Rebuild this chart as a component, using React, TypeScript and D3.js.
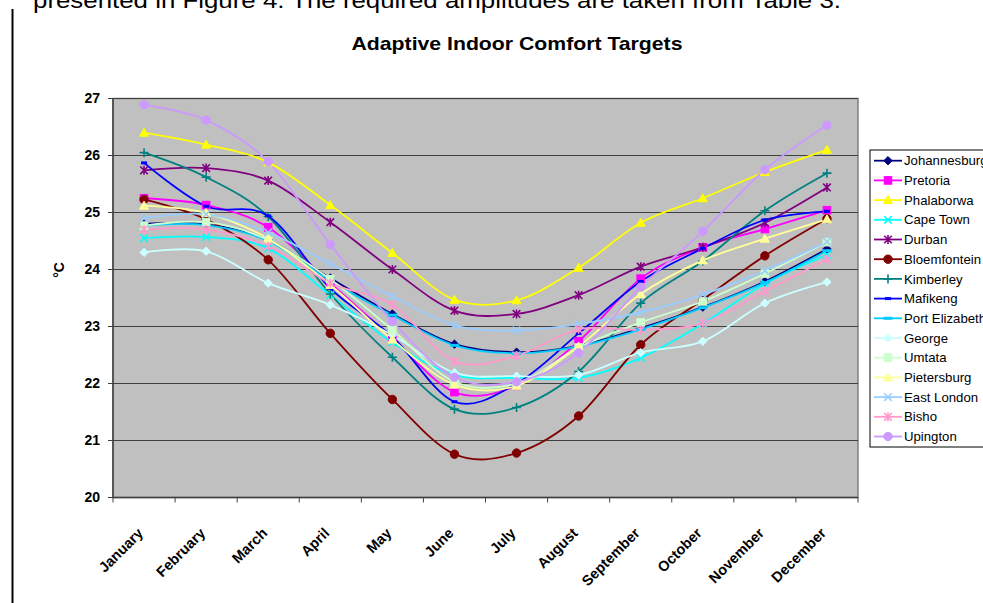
import React from "react";
import * as d3 from "d3";

const months = ["January","February","March","April","May","June","July","August","September","October","November","December"];
const yTicks = [20,21,22,23,24,25,26,27];

const johannesburg = [24.80, 24.79, 24.52, 23.85, 23.22, 22.69, 22.55, 22.66, 22.97, 23.34, 23.79, 24.36];
const pretoria = [25.25, 25.13, 24.74, 23.76, 22.80, 21.85, 21.96, 22.74, 23.84, 24.39, 24.71, 25.04];
const phalaborwa = [26.40, 26.19, 25.88, 25.13, 24.29, 23.47, 23.46, 24.03, 24.82, 25.25, 25.71, 26.10];
const capeTown = [24.55, 24.57, 24.37, 23.55, 22.72, 22.15, 22.10, 22.10, 22.45, 23.05, 23.75, 24.26];
const durban = [25.74, 25.78, 25.56, 24.83, 24.00, 23.28, 23.22, 23.55, 24.05, 24.39, 24.82, 25.44];
const bloemfontein = [25.23, 24.88, 24.17, 22.88, 21.72, 20.76, 20.78, 21.43, 22.68, 23.47, 24.24, 24.89];
const kimberley = [26.05, 25.62, 24.93, 23.57, 22.46, 21.55, 21.58, 22.21, 23.41, 24.15, 25.03, 25.69];
const mafikeng = [25.87, 25.11, 24.94, 23.67, 22.82, 21.68, 22.00, 22.88, 23.79, 24.37, 24.87, 25.02];
const portElizabeth = [24.77, 24.78, 24.50, 23.80, 23.20, 22.67, 22.53, 22.65, 22.95, 23.33, 23.77, 24.33];
const george = [24.30, 24.32, 23.76, 23.38, 22.85, 22.19, 22.13, 22.15, 22.54, 22.74, 23.41, 23.78];
const umtata = [24.77, 24.83, 24.52, 23.83, 22.94, 22.03, 22.00, 22.63, 23.07, 23.44, 23.93, 24.48];
const pietersburg = [25.12, 24.99, 24.54, 23.73, 22.77, 21.98, 21.96, 22.65, 23.57, 24.16, 24.54, 24.88];
const eastLondon = [24.90, 24.97, 24.65, 24.10, 23.53, 23.02, 22.93, 23.04, 23.25, 23.56, 23.98, 24.49];
const bisho = [24.70, 24.70, 24.41, 23.76, 23.38, 22.39, 22.49, 22.95, 22.94, 23.06, 23.62, 24.18];
const upington = [26.89, 26.62, 25.89, 24.44, 23.09, 22.11, 22.03, 22.54, 23.69, 24.67, 25.75, 26.53];

const seriesNames = ["Johannesburg","Pretoria","Phalaborwa","Cape Town","Durban","Bloemfontein","Kimberley","Mafikeng","Port Elizabeth","George","Umtata","Pietersburg","East London","Bisho","Upington"];
const seriesValues = [johannesburg, pretoria, phalaborwa, capeTown, durban, bloemfontein, kimberley, mafikeng, portElizabeth, george, umtata, pietersburg, eastLondon, bisho, upington];
const seriesColors = ["#000080","#FF00FF","#FFFF00","#00FFFF","#800080","#800000","#008080","#0000FF","#00CCFF","#CCFFFF","#CCFFCC","#FFFF99","#99CCFF","#FF99CC","#CC99FF"];
const seriesMarkers = ["diamond","square","triangle","x","star","circle","plus","shortdash","dash","diamond","square","triangle","x","star","circle"];

const FONT = "Arial, 'Liberation Sans', sans-serif";

function Marker({ type, x, y, color }: { type: string; x: number; y: number; color: string }) {
  const s = 4.2;
  switch (type) {
    case "diamond":
      return <path d={`M${x},${y - s}L${x + s},${y}L${x},${y + s}L${x - s},${y}Z`} fill={color} stroke={color} strokeWidth={1} />;
    case "square":
      return <rect x={x - 3.8} y={y - 3.8} width={7.6} height={7.6} fill={color} stroke={color} strokeWidth={1} />;
    case "triangle":
      return <path d={`M${x},${y - 4.5}L${x + 4.5},${y + 3.5}L${x - 4.5},${y + 3.5}Z`} fill={color} stroke={color} strokeWidth={1} />;
    case "x":
      return <path d={`M${x - 3.8},${y - 3.8}L${x + 3.8},${y + 3.8}M${x - 3.8},${y + 3.8}L${x + 3.8},${y - 3.8}`} stroke={color} strokeWidth={1.6} fill="none" />;
    case "star":
      return <path d={`M${x - 3.8},${y - 3.8}L${x + 3.8},${y + 3.8}M${x - 3.8},${y + 3.8}L${x + 3.8},${y - 3.8}M${x},${y - 4.5}L${x},${y + 4.5}`} stroke={color} strokeWidth={1.6} fill="none" />;
    case "circle":
      return <circle cx={x} cy={y} r={4.2} fill={color} stroke={color} strokeWidth={1} />;
    case "plus":
      return <path d={`M${x - 4.5},${y}L${x + 4.5},${y}M${x},${y - 4.5}L${x},${y + 4.5}`} stroke={color} strokeWidth={1.6} fill="none" />;
    case "shortdash":
      return <rect x={x - 3} y={y - 1.5} width={6} height={3} fill={color} />;
    case "dash":
      return <rect x={x - 4.5} y={y - 1.5} width={9} height={3} fill={color} />;
    default:
      return null;
  }
}

export default function App() {
  const W = 983, H = 603;
  const plotLeft = 113, plotRight = 858, plotTop = 98.5, plotBottom = 497.5;

  const x = d3.scaleBand<string>().domain(months).range([plotLeft, plotRight]);
  const bw = x.bandwidth();
  const cx = (m: string) => (x(m) as number) + bw / 2;
  const y = d3.scaleLinear().domain([20, 27]).range([plotBottom, plotTop]);

  const line = d3
    .line<number>()
    .x((_, i) => cx(months[i]))
    .y((d) => y(d))
    .curve(d3.curveCardinal.tension(0));

  const boundaries = months.map((m) => x(m) as number).concat([plotRight]);

  const legendX = 870, legendY = 150, legendRowH = 19.7, legendFirst = 160.7;

  return (
    <svg width={W} height={H} style={{ position: "absolute", left: 0, top: 0, background: "#fff" }} fontFamily={FONT}>
      <rect x={0} y={0} width={W} height={H} fill="#fff" />
      {/* page text fragment */}
      <text x={33} y={8} fontSize={22} fill="#000" textLength={808} lengthAdjust="spacingAndGlyphs">
        presented in Figure 4. The required amplitudes are taken from Table 3.
      </text>
      <line x1={12.5} y1={9} x2={12.5} y2={H} stroke="#000" strokeWidth={2} />

      {/* title */}
      <text x={517} y={50} textAnchor="middle" fontSize={18.5} fontWeight="bold" fill="#000" textLength={331} lengthAdjust="spacingAndGlyphs">
        Adaptive Indoor Comfort Targets
      </text>

      {/* plot area */}
      <rect x={plotLeft} y={plotTop} width={plotRight - plotLeft} height={plotBottom - plotTop} fill="#C0C0C0" stroke="#808080" strokeWidth={1.5} />
      {yTicks.map((t) => (
        <line key={"g" + t} x1={plotLeft} x2={plotRight} y1={y(t)} y2={y(t)} stroke="#404040" strokeWidth={1.2} />
      ))}
      {/* axes */}
      <line x1={plotLeft} x2={plotLeft} y1={plotTop} y2={plotBottom} stroke="#404040" strokeWidth={1.5} />
      <line x1={plotLeft} x2={plotRight} y1={plotBottom} y2={plotBottom} stroke="#404040" strokeWidth={1.5} />
      {yTicks.map((t) => (
        <g key={"yt" + t}>
          <line x1={plotLeft - 5} x2={plotLeft} y1={y(t)} y2={y(t)} stroke="#404040" strokeWidth={1} />
          <text x={100} y={y(t)} dy="0.35em" textAnchor="end" fontSize={14} fontWeight="bold">
            {t}
          </text>
        </g>
      ))}
      {boundaries.map((b, i) => (
        <line key={"xt" + i} x1={b} x2={b} y1={plotBottom} y2={plotBottom + 5} stroke="#404040" strokeWidth={1} />
      ))}
      {months.map((m) => (
        <text
          key={"xl" + m}
          transform={`translate(${cx(m)},${534}) rotate(-45)`}
          textAnchor="end"
          fontSize={14.5}
          fontWeight="bold"
        >
          {m}
        </text>
      ))}
      <text transform={`translate(64,270) rotate(-90)`} textAnchor="middle" fontSize={14} fontWeight="bold">
        °C
      </text>

      {/* series */}
      {seriesValues.map((vals, si) => (
        <path key={"l" + si} d={line(vals) || ""} fill="none" stroke={seriesColors[si]} strokeWidth={1.8} />
      ))}
      {seriesValues.map((vals, si) => (
        <g key={"m" + si}>
          {vals.map((v, i) => (
            <Marker key={i} type={seriesMarkers[si]} x={cx(months[i])} y={y(v)} color={seriesColors[si]} />
          ))}
        </g>
      ))}

      {/* legend */}
      <rect x={legendX} y={legendY} width={130} height={297} fill="#fff" stroke="#000" strokeWidth={1} />
      {seriesNames.map((n, i) => {
        const ly = legendFirst + i * legendRowH;
        return (
          <g key={"lg" + n}>
            <line x1={874} x2={902} y1={ly} y2={ly} stroke={seriesColors[i]} strokeWidth={1.8} />
            <Marker type={seriesMarkers[i]} x={888} y={ly} color={seriesColors[i]} />
            <text x={904} y={ly} dy="0.35em" fontSize={13.2}>
              {n}
            </text>
          </g>
        );
      })}
    </svg>
  );
}
